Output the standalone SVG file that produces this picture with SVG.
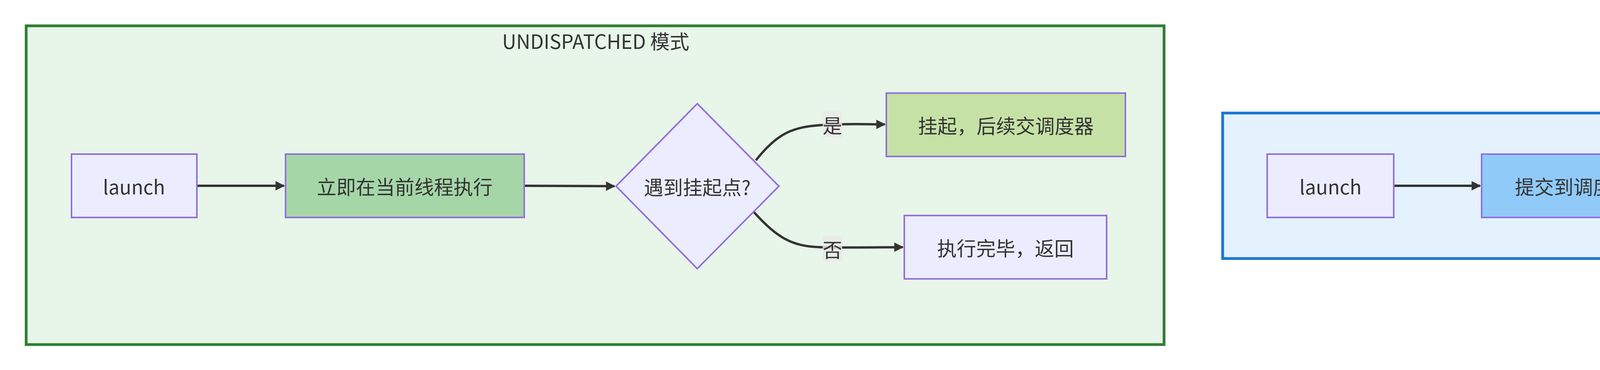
<svg xmlns="http://www.w3.org/2000/svg" width="5775" height="946" viewBox="0 0 5775 946">
<defs>
<marker id="ah" viewBox="0 0 10 10" refX="9" refY="5" markerWidth="4" markerHeight="4" markerUnits="strokeWidth" orient="auto"><path d="M0,0L10,5L0,10z" fill="#333"/></marker>
<style>
text{font-family:"Noto Sans CJK SC","DejaVu Sans",sans-serif;font-size:50px;fill:#333;text-anchor:middle;dominant-baseline:central}
.n{fill:#ECECFF;stroke:#9370DB;stroke-width:4}
.e{fill:none;stroke:#333;stroke-width:6;marker-end:url(#ah)}
.lb{fill:#e8e8e8;opacity:0.8}
</style>
</defs>
<rect width="5775" height="946" fill="#fff"/>
<g id="cluster-undispatched"><rect x="67" y="66" width="2913" height="815" fill="#E8F5E9" stroke="#2E7D32" stroke-width="7"/><text x="1525" y="103">UNDISPATCHED 模式</text></g>
<g id="cluster-default"><rect x="3130" y="289" width="2592" height="372" fill="#E3F2FD" stroke="#1976D2" stroke-width="7"/><text x="4423" y="323">DEFAULT 模式</text></g>
<g id="connectors">
<path class="e" d="M504,475H727"/>
<path class="e" d="M1342,475C1450,475 1520,476 1573,476"/>
<path class="e" d="M1935,410C1990,340 2030,325 2100,320S2230,318 2265,318"/>
<path class="e" d="M1929,541C1990,610 2030,630 2100,632S2270,632 2311,632"/>
<path class="e" d="M3568,475H3789"/>
<path class="e" d="M4263,475H4487"/>
<path class="e" d="M4960,475H5182"/>
<rect class="lb" x="2106" y="285" width="50" height="66"/><text x="2131" y="318">是</text>
<rect class="lb" x="2106" y="603" width="50" height="66"/><text x="2131" y="636">否</text>
</g>
<g id="u-launch"><rect class="n" x="183" y="394" width="321" height="162"/><text x="343" y="475">launch</text></g>
<g id="u-exec"><rect class="n" x="731" y="394" width="611" height="162" fill="#A5D6A7" style="fill:#A5D6A7"/><text x="1036" y="475">立即在当前线程执行</text></g>
<g id="u-check"><polygon class="n" points="1785,265 1994,476 1785,687 1577,476"/><text x="1785" y="476">遇到挂起点?</text></g>
<g id="u-suspend"><rect class="n" x="2269" y="238" width="612" height="162" style="fill:#C5E1A5"/><text x="2575" y="319">挂起，后续交调度器</text></g>
<g id="u-done"><rect class="n" x="2315" y="551" width="518" height="162"/><text x="2574" y="632">执行完毕，返回</text></g>
<g id="d-launch"><rect class="n" x="3244" y="394" width="324" height="162"/><text x="3406" y="475">launch</text></g>
<g id="d-submit"><rect class="n" x="3793" y="394" width="470" height="162" style="fill:#90CAF9"/><text x="4028" y="475">提交到调度器</text></g>
<g id="d-wait"><rect class="n" x="4491" y="394" width="469" height="162" style="fill:#90CAF9"/><text x="4725" y="475">等待线程分配</text></g>
<g id="d-run"><rect class="n" x="5186" y="394" width="422" height="162"/><text x="5397" y="475">执行协程体</text></g>
<text x="5620" y="909" style="font-size:24px;fill:#888">掘金技术社区 @ 地狱勇士</text>
</svg>
